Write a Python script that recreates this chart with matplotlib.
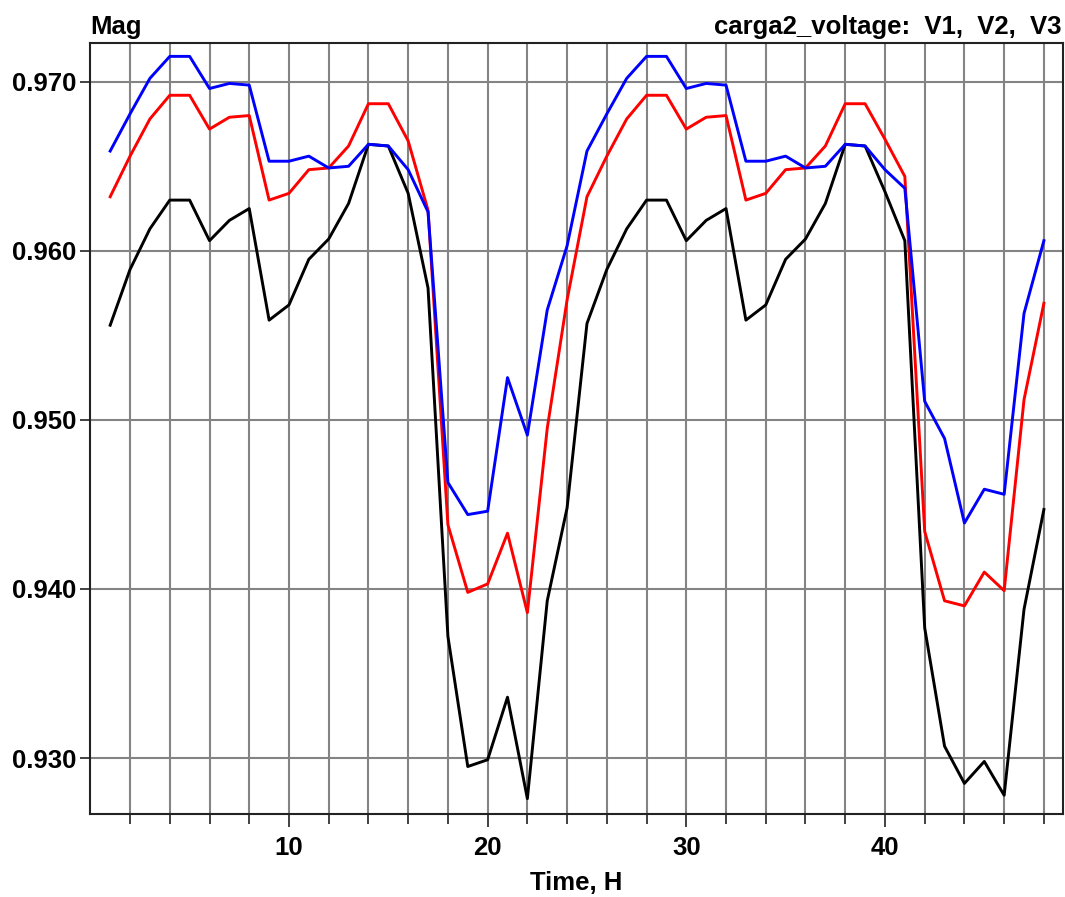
import matplotlib
matplotlib.use('Agg')
import matplotlib.pyplot as plt
from matplotlib.ticker import MultipleLocator, FixedLocator, FormatStrFormatter

plt.rcParams['font.family'] = ['Liberation Sans', 'DejaVu Sans']
plt.rcParams['font.weight'] = 'bold'

# hours 1..48
hours = list(range(1, 49))

# V1 (black)
v1 = [0.9556, 0.9589, 0.9613, 0.9630, 0.9630, 0.9606, 0.9618, 0.9625,
      0.9559, 0.9568, 0.9595, 0.9607, 0.9628, 0.9663, 0.9662, 0.9634,
      0.9578, 0.9372, 0.9295, 0.9299, 0.9336, 0.9276, 0.9393, 0.9448,
      0.9557, 0.9589, 0.9613, 0.9630, 0.9630, 0.9606, 0.9618, 0.9625,
      0.9559, 0.9568, 0.9595, 0.9607, 0.9628, 0.9663, 0.9662, 0.9635,
      0.9606, 0.9377, 0.9307, 0.9285, 0.9298, 0.9278, 0.9388, 0.9447]

# V2 (red)
v2 = [0.9632, 0.9656, 0.9678, 0.9692, 0.9692, 0.9672, 0.9679, 0.9680,
      0.9630, 0.9634, 0.9648, 0.9649, 0.9662, 0.9687, 0.9687, 0.9665,
      0.9624, 0.9438, 0.9398, 0.9403, 0.9433, 0.9386, 0.9495, 0.9571,
      0.9632, 0.9656, 0.9678, 0.9692, 0.9692, 0.9672, 0.9679, 0.9680,
      0.9630, 0.9634, 0.9648, 0.9649, 0.9662, 0.9687, 0.9687, 0.9666,
      0.9644, 0.9434, 0.9393, 0.9390, 0.9410, 0.9399, 0.9512, 0.9569]

# V3 (blue)
v3 = [0.9659, 0.9681, 0.9702, 0.9715, 0.9715, 0.9696, 0.9699, 0.9698,
      0.9653, 0.9653, 0.9656, 0.9649, 0.9650, 0.9663, 0.9662, 0.9648,
      0.9623, 0.9463, 0.9444, 0.9446, 0.9525, 0.9491, 0.9565, 0.9603,
      0.9659, 0.9681, 0.9702, 0.9715, 0.9715, 0.9696, 0.9699, 0.9698,
      0.9653, 0.9653, 0.9656, 0.9649, 0.9650, 0.9663, 0.9662, 0.9648,
      0.9637, 0.9511, 0.9489, 0.9439, 0.9459, 0.9456, 0.9563, 0.9606]

x_labels = [10, 20, 30, 40]
x_grid = list(range(2, 49, 2))

fig = plt.figure(figsize=(10.65, 8.97), dpi=100)
ax = fig.add_axes([0.0848, 0.0925, 0.9131, 0.8601])

ax.plot(hours, v1, color='black', lw=2.1)
ax.plot(hours, v2, color='#ff0000', lw=2.1)
ax.plot(hours, v3, color='#0000ff', lw=2.1)

ax.set_xlim(0, 48.95)
ax.set_ylim(0.92669, 0.97232)

ax.xaxis.set_major_locator(FixedLocator(x_labels))
ax.xaxis.set_minor_locator(FixedLocator(x_grid))
ax.yaxis.set_major_locator(MultipleLocator(0.01))
ax.yaxis.set_major_formatter(FormatStrFormatter('%.3f'))

ax.grid(which='both', axis='x', color='#848484', lw=1.5)
ax.grid(which='major', axis='y', color='#848484', lw=1.5)
ax.set_axisbelow(True)

ax.tick_params(axis='both', which='major', labelsize=18.5, width=1.3, color='#333333')
ax.tick_params(axis='x', which='major', length=9, pad=7)
ax.tick_params(axis='x', which='minor', length=7, width=1.3, color='#333333')
ax.tick_params(axis='y', which='major', length=7, pad=3)
for lab in ax.get_xticklabels() + ax.get_yticklabels():
    lab.set_fontweight('bold')

for s in ax.spines.values():
    s.set_linewidth(1.5)
    s.set_color('#222222')

ax.set_xlabel('Time, H', fontsize=18.5, fontweight='bold', labelpad=8)
fig.text(0.0848, 0.962, 'Mag', fontsize=18.5, fontweight='bold', ha='left', va='baseline')
fig.text(0.997, 0.962, 'carga2_voltage:  V1,  V2,  V3', fontsize=18.5,
         fontweight='bold', ha='right', va='baseline')

fig.savefig('out.png', dpi=100)
